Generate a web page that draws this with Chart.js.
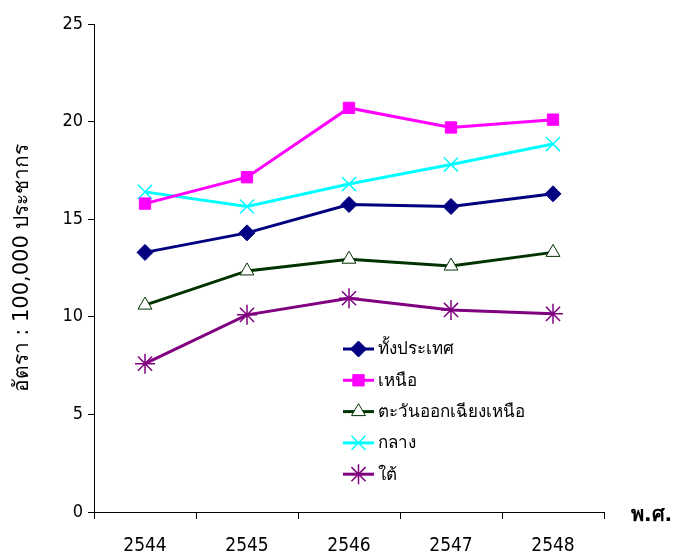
<!DOCTYPE html>
<html>
<head>
<meta charset="utf-8">
<script src="https://cdn.jsdelivr.net/npm/chart.js@4"></script>
<style>
  body { margin: 0; background: #fff; }
  #wrap { width: 678px; height: 553px; }
</style>
</head>
<body>
<div id="wrap"><canvas id="grafico" width="678" height="553"></canvas></div>
<script>
// ปี พ.ศ.
const anos = ["2544", "2545", "2546", "2547", "2548"];

// อัตรา ต่อประชากร 100,000 คน
const tudo = [13.3, 14.3, 15.75, 15.65, 16.3];
const norte = [15.8, 17.15, 20.7, 19.7, 20.1];
const nordeste = [10.6, 12.35, 12.95, 12.6, 13.3];
const centro = [16.4, 15.65, 16.8, 17.8, 18.85];
const sul = [7.6, 10.1, 10.95, 10.35, 10.15];

const nomes = ["ทั้งประเทศ", "เหนือ", "ตะวันออกเฉียงเหนือ", "กลาง", "ใต้"];
const yTicks = [0, 5, 10, 15, 20, 25];

const fonteThai = "Tahoma, 'DejaVu Sans', 'Noto Sans', sans-serif";
const fonteNum = "'DejaVu Sans Condensed', sans-serif";
const fonteAnos = "'Liberation Sans Narrow', 'DejaVu Sans Condensed', sans-serif";

function serie(label, dados, cor, estilo, extra) {
    return Object.assign({
        label: label,
        data: dados,
        borderColor: cor,
        backgroundColor: cor,
        pointBorderColor: cor,
        pointBackgroundColor: cor,
        borderWidth: 3,
        pointStyle: estilo,
        pointRadius: 7,
        pointHoverRadius: 7,
        pointBorderWidth: 1,
        tension: 0
    }, extra || {});
}

const series = [
    serie(nomes[0], tudo, "#000080", "rectRot", { pointRadius: 8 }),
    serie(nomes[1], norte, "#ff00ff", "rect", { pointRadius: 8 }),
    serie(nomes[2], nordeste, "#003300", "triangle", { pointBackgroundColor: "#ffffff", pointRadius: 8 }),
    serie(nomes[3], centro, "#00ffff", "crossRot", { pointBorderWidth: 1.5, pointRadius: 10 }),
    serie(nomes[4], sul, "#800080", "star", { pointBorderWidth: 1.5, pointRadius: 10 })
];

/* legenda desenhada dentro da área do gráfico */
const legendaInterna = {
    id: "legendaInterna",
    afterDraw(chart) {
        const ctx = chart.ctx;
        const x0 = 343, y0 = 349, passo = 31.3;
        ctx.save();
        chart.data.datasets.forEach((ds, i) => {
            const y = y0 + i * passo;
            ctx.strokeStyle = ds.borderColor;
            ctx.lineWidth = 3;
            ctx.beginPath();
            ctx.moveTo(x0, y);
            ctx.lineTo(x0 + 31, y);
            ctx.stroke();
            ctx.fillStyle = ds.pointBackgroundColor;
            ctx.strokeStyle = ds.pointBorderColor;
            ctx.lineWidth = ds.pointBorderWidth;
            Chart.helpers.drawPoint(ctx, {
                pointStyle: ds.pointStyle,
                radius: ds.pointRadius,
                borderWidth: ds.pointBorderWidth,
                rotation: 0
            }, x0 + 15.5, y);
            ctx.fillStyle = "#000";
            ctx.font = "17px " + fonteThai;
            ctx.textBaseline = "middle";
            ctx.textAlign = "left";
            ctx.fillText(ds.label, x0 + 35, y + 1);
        });
        // rótulo do eixo x
        ctx.font = "bold 20px " + fonteThai;
        ctx.textAlign = "left";
        ctx.textBaseline = "middle";
        ctx.fillText("พ.ศ.", 631, 516);
        ctx.restore();
    }
};

new Chart(document.getElementById("grafico"), {
    type: "line",
    data: { labels: anos, datasets: series },
    options: {
        responsive: false,
        animation: false,
        layout: { padding: { top: 24, right: 74, left: 0, bottom: 0 } },
        plugins: { legend: { display: false }, tooltip: { enabled: false } },
        scales: {
            x: {
                offset: true,
                grid: { offset: true, drawOnChartArea: false, drawTicks: true, tickLength: 7, color: "#000" },
                border: { display: true, color: "#000", width: 1 },
                ticks: { color: "#000", font: { family: fonteAnos, size: 19 }, padding: 16, maxRotation: 0 },
                afterFit(scale) { scale.height = 41; }
            },
            y: {
                min: 0,
                max: 25,
                afterBuildTicks(scale) { scale.ticks = yTicks.map(v => ({ value: v })); },
                grid: { drawOnChartArea: false, drawTicks: true, tickLength: 6, color: "#000" },
                border: { display: true, color: "#000", width: 1 },
                ticks: { color: "#000", font: { family: fonteNum, size: 18 }, padding: 5 },
                title: {
                    display: true,
                    text: "อัตรา : 100,000 ประชากร",
                    color: "#000",
                    font: { family: fonteThai, size: 21 },
                    padding: { top: 10, bottom: 0 }
                },
                afterFit(scale) { scale.width = 94; }
            }
        }
    },
    plugins: [legendaInterna]
});
</script>
</body>
</html>
